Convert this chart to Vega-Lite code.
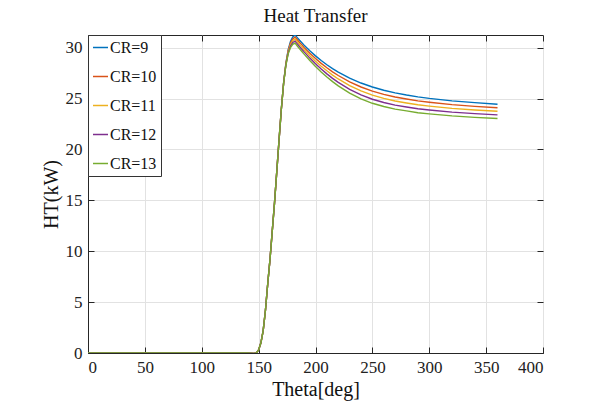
{
  "$schema": "https://vega.github.io/schema/vega-lite/v6.json",
  "width": 455,
  "height": 318,
  "autosize": {"type": "none"},
  "padding": {"left": 88, "top": 35, "right": 51, "bottom": 58},
  "background": "white",
  "title": {"text": "Heat Transfer", "font": "Liberation Serif", "fontSize": 19, "fontWeight": "normal", "color": "#111", "offset": 9},
  "config": {
    "font": "Liberation Serif",
    "style": {"guide-label": {"font": "Liberation Serif"}, "guide-title": {"font": "Liberation Serif"}},
    "view": {"stroke": "#262626", "strokeWidth": 1},
    "axis": {"labelFont": "Liberation Serif", "titleFont": "Liberation Serif", "labelColor": "#222", "titleColor": "#111", "titleFontWeight": "normal", "domainColor": "#262626", "tickColor": "#262626", "gridColor": "#e2e2e2", "gridWidth": 1}
  },
  "data": {"values": [
    {"t":0,"c":"CR=9","v":0},{"t":20,"c":"CR=9","v":0},{"t":40,"c":"CR=9","v":0},{"t":60,"c":"CR=9","v":0},{"t":80,"c":"CR=9","v":0},{"t":100,"c":"CR=9","v":0},{"t":120,"c":"CR=9","v":0},{"t":140,"c":"CR=9","v":0},{"t":146,"c":"CR=9","v":-0.05},{"t":148,"c":"CR=9","v":0},{"t":150,"c":"CR=9","v":0.3},{"t":152,"c":"CR=9","v":1.0},{"t":154,"c":"CR=9","v":2.2},{"t":156,"c":"CR=9","v":4.2},{"t":158,"c":"CR=9","v":6.8},{"t":160,"c":"CR=9","v":9.2},{"t":162,"c":"CR=9","v":12.0},{"t":164,"c":"CR=9","v":14.8},{"t":166,"c":"CR=9","v":17.9},{"t":168,"c":"CR=9","v":21.0},{"t":170,"c":"CR=9","v":24.0},{"t":172,"c":"CR=9","v":26.6},{"t":174,"c":"CR=9","v":28.5},{"t":176,"c":"CR=9","v":29.8},{"t":178,"c":"CR=9","v":30.6},{"t":180,"c":"CR=9","v":31.05},{"t":182,"c":"CR=9","v":31.25},{"t":184,"c":"CR=9","v":30.99},{"t":186,"c":"CR=9","v":30.73},{"t":188,"c":"CR=9","v":30.49},{"t":190,"c":"CR=9","v":30.25},{"t":195,"c":"CR=9","v":29.7},{"t":200,"c":"CR=9","v":29.2},{"t":205,"c":"CR=9","v":28.74},{"t":210,"c":"CR=9","v":28.33},{"t":215,"c":"CR=9","v":27.95},{"t":220,"c":"CR=9","v":27.61},{"t":230,"c":"CR=9","v":27.02},{"t":240,"c":"CR=9","v":26.53},{"t":250,"c":"CR=9","v":26.14},{"t":260,"c":"CR=9","v":25.82},{"t":270,"c":"CR=9","v":25.56},{"t":280,"c":"CR=9","v":25.35},{"t":290,"c":"CR=9","v":25.17},{"t":300,"c":"CR=9","v":25.02},{"t":320,"c":"CR=9","v":24.78},{"t":340,"c":"CR=9","v":24.6},{"t":360,"c":"CR=9","v":24.45},
    {"t":0,"c":"CR=10","v":0},{"t":20,"c":"CR=10","v":0},{"t":40,"c":"CR=10","v":0},{"t":60,"c":"CR=10","v":0},{"t":80,"c":"CR=10","v":0},{"t":100,"c":"CR=10","v":0},{"t":120,"c":"CR=10","v":0},{"t":140,"c":"CR=10","v":0},{"t":146,"c":"CR=10","v":-0.05},{"t":148,"c":"CR=10","v":0},{"t":150,"c":"CR=10","v":0.3},{"t":152,"c":"CR=10","v":1.0},{"t":154,"c":"CR=10","v":2.2},{"t":156,"c":"CR=10","v":4.2},{"t":158,"c":"CR=10","v":6.8},{"t":160,"c":"CR=10","v":9.2},{"t":162,"c":"CR=10","v":12.0},{"t":164,"c":"CR=10","v":14.8},{"t":166,"c":"CR=10","v":17.9},{"t":168,"c":"CR=10","v":21.0},{"t":170,"c":"CR=10","v":24.0},{"t":172,"c":"CR=10","v":26.58},{"t":174,"c":"CR=10","v":28.45},{"t":176,"c":"CR=10","v":29.7},{"t":178,"c":"CR=10","v":30.45},{"t":180,"c":"CR=10","v":30.87},{"t":182,"c":"CR=10","v":31.05},{"t":184,"c":"CR=10","v":30.79},{"t":186,"c":"CR=10","v":30.52},{"t":188,"c":"CR=10","v":30.28},{"t":190,"c":"CR=10","v":30.03},{"t":195,"c":"CR=10","v":29.46},{"t":200,"c":"CR=10","v":28.94},{"t":205,"c":"CR=10","v":28.46},{"t":210,"c":"CR=10","v":28.03},{"t":215,"c":"CR=10","v":27.63},{"t":220,"c":"CR=10","v":27.27},{"t":230,"c":"CR=10","v":26.65},{"t":240,"c":"CR=10","v":26.14},{"t":250,"c":"CR=10","v":25.74},{"t":260,"c":"CR=10","v":25.42},{"t":270,"c":"CR=10","v":25.16},{"t":280,"c":"CR=10","v":24.96},{"t":290,"c":"CR=10","v":24.78},{"t":300,"c":"CR=10","v":24.64},{"t":320,"c":"CR=10","v":24.41},{"t":340,"c":"CR=10","v":24.24},{"t":360,"c":"CR=10","v":24.1},
    {"t":0,"c":"CR=11","v":0},{"t":20,"c":"CR=11","v":0},{"t":40,"c":"CR=11","v":0},{"t":60,"c":"CR=11","v":0},{"t":80,"c":"CR=11","v":0},{"t":100,"c":"CR=11","v":0},{"t":120,"c":"CR=11","v":0},{"t":140,"c":"CR=11","v":0},{"t":146,"c":"CR=11","v":-0.05},{"t":148,"c":"CR=11","v":0},{"t":150,"c":"CR=11","v":0.3},{"t":152,"c":"CR=11","v":1.0},{"t":154,"c":"CR=11","v":2.2},{"t":156,"c":"CR=11","v":4.2},{"t":158,"c":"CR=11","v":6.8},{"t":160,"c":"CR=11","v":9.2},{"t":162,"c":"CR=11","v":12.0},{"t":164,"c":"CR=11","v":14.8},{"t":166,"c":"CR=11","v":17.9},{"t":168,"c":"CR=11","v":21.0},{"t":170,"c":"CR=11","v":24.0},{"t":172,"c":"CR=11","v":26.56},{"t":174,"c":"CR=11","v":28.4},{"t":176,"c":"CR=11","v":29.6},{"t":178,"c":"CR=11","v":30.3},{"t":180,"c":"CR=11","v":30.69},{"t":182,"c":"CR=11","v":30.85},{"t":184,"c":"CR=11","v":30.58},{"t":186,"c":"CR=11","v":30.31},{"t":188,"c":"CR=11","v":30.06},{"t":190,"c":"CR=11","v":29.81},{"t":195,"c":"CR=11","v":29.22},{"t":200,"c":"CR=11","v":28.68},{"t":205,"c":"CR=11","v":28.18},{"t":210,"c":"CR=11","v":27.73},{"t":215,"c":"CR=11","v":27.31},{"t":220,"c":"CR=11","v":26.93},{"t":230,"c":"CR=11","v":26.28},{"t":240,"c":"CR=11","v":25.75},{"t":250,"c":"CR=11","v":25.34},{"t":260,"c":"CR=11","v":25.02},{"t":270,"c":"CR=11","v":24.76},{"t":280,"c":"CR=11","v":24.57},{"t":290,"c":"CR=11","v":24.39},{"t":300,"c":"CR=11","v":24.26},{"t":320,"c":"CR=11","v":24.04},{"t":340,"c":"CR=11","v":23.88},{"t":360,"c":"CR=11","v":23.75},
    {"t":0,"c":"CR=12","v":0},{"t":20,"c":"CR=12","v":0},{"t":40,"c":"CR=12","v":0},{"t":60,"c":"CR=12","v":0},{"t":80,"c":"CR=12","v":0},{"t":100,"c":"CR=12","v":0},{"t":120,"c":"CR=12","v":0},{"t":140,"c":"CR=12","v":0},{"t":146,"c":"CR=12","v":-0.05},{"t":148,"c":"CR=12","v":0},{"t":150,"c":"CR=12","v":0.3},{"t":152,"c":"CR=12","v":1.0},{"t":154,"c":"CR=12","v":2.2},{"t":156,"c":"CR=12","v":4.2},{"t":158,"c":"CR=12","v":6.8},{"t":160,"c":"CR=12","v":9.2},{"t":162,"c":"CR=12","v":12.0},{"t":164,"c":"CR=12","v":14.8},{"t":166,"c":"CR=12","v":17.9},{"t":168,"c":"CR=12","v":21.0},{"t":170,"c":"CR=12","v":24.0},{"t":172,"c":"CR=12","v":26.54},{"t":174,"c":"CR=12","v":28.35},{"t":176,"c":"CR=12","v":29.5},{"t":178,"c":"CR=12","v":30.15},{"t":180,"c":"CR=12","v":30.51},{"t":182,"c":"CR=12","v":30.65},{"t":184,"c":"CR=12","v":30.38},{"t":186,"c":"CR=12","v":30.1},{"t":188,"c":"CR=12","v":29.85},{"t":190,"c":"CR=12","v":29.59},{"t":195,"c":"CR=12","v":28.98},{"t":200,"c":"CR=12","v":28.42},{"t":205,"c":"CR=12","v":27.9},{"t":210,"c":"CR=12","v":27.43},{"t":215,"c":"CR=12","v":26.99},{"t":220,"c":"CR=12","v":26.59},{"t":230,"c":"CR=12","v":25.91},{"t":240,"c":"CR=12","v":25.36},{"t":250,"c":"CR=12","v":24.94},{"t":260,"c":"CR=12","v":24.62},{"t":270,"c":"CR=12","v":24.36},{"t":280,"c":"CR=12","v":24.18},{"t":290,"c":"CR=12","v":24.0},{"t":300,"c":"CR=12","v":23.88},{"t":320,"c":"CR=12","v":23.67},{"t":340,"c":"CR=12","v":23.52},{"t":360,"c":"CR=12","v":23.4},
    {"t":0,"c":"CR=13","v":0},{"t":20,"c":"CR=13","v":0},{"t":40,"c":"CR=13","v":0},{"t":60,"c":"CR=13","v":0},{"t":80,"c":"CR=13","v":0},{"t":100,"c":"CR=13","v":0},{"t":120,"c":"CR=13","v":0},{"t":140,"c":"CR=13","v":0},{"t":146,"c":"CR=13","v":-0.05},{"t":148,"c":"CR=13","v":0},{"t":150,"c":"CR=13","v":0.3},{"t":152,"c":"CR=13","v":1.0},{"t":154,"c":"CR=13","v":2.2},{"t":156,"c":"CR=13","v":4.2},{"t":158,"c":"CR=13","v":6.8},{"t":160,"c":"CR=13","v":9.2},{"t":162,"c":"CR=13","v":12.0},{"t":164,"c":"CR=13","v":14.8},{"t":166,"c":"CR=13","v":17.9},{"t":168,"c":"CR=13","v":21.0},{"t":170,"c":"CR=13","v":24.0},{"t":172,"c":"CR=13","v":26.52},{"t":174,"c":"CR=13","v":28.3},{"t":176,"c":"CR=13","v":29.4},{"t":178,"c":"CR=13","v":30.0},{"t":180,"c":"CR=13","v":30.33},{"t":182,"c":"CR=13","v":30.45},{"t":184,"c":"CR=13","v":30.17},{"t":186,"c":"CR=13","v":29.89},{"t":188,"c":"CR=13","v":29.63},{"t":190,"c":"CR=13","v":29.37},{"t":195,"c":"CR=13","v":28.74},{"t":200,"c":"CR=13","v":28.16},{"t":205,"c":"CR=13","v":27.62},{"t":210,"c":"CR=13","v":27.13},{"t":215,"c":"CR=13","v":26.67},{"t":220,"c":"CR=13","v":26.25},{"t":230,"c":"CR=13","v":25.54},{"t":240,"c":"CR=13","v":24.97},{"t":250,"c":"CR=13","v":24.54},{"t":260,"c":"CR=13","v":24.22},{"t":270,"c":"CR=13","v":23.96},{"t":280,"c":"CR=13","v":23.79},{"t":290,"c":"CR=13","v":23.61},{"t":300,"c":"CR=13","v":23.5},{"t":320,"c":"CR=13","v":23.3},{"t":340,"c":"CR=13","v":23.16},{"t":360,"c":"CR=13","v":23.05}
  ]},
  "resolve": {"axis": {"x": "independent", "y": "independent"}},
  "layer": [
    {
      "mark": {"type": "line", "strokeWidth": 1.4, "clip": true},
      "encoding": {
        "x": {"field": "t", "type": "quantitative", "scale": {"domain": [0, 400], "nice": false},
              "axis": {"title": "Theta[deg]", "values": [0,50,100,150,200,250,300,350,400], "labelFont": "Liberation Serif", "titleFont": "Liberation Serif", "labelFontSize": 17, "titleFontSize": 20, "tickSize": -6, "labelPadding": 12, "titlePadding": 4, "grid": true}},
        "y": {"field": "v", "type": "quantitative", "scale": {"domain": [0, 31.25], "nice": false, "zero": false},
              "axis": {"title": "HT(kW)", "values": [0,5,10,15,20,25,30], "labelFont": "Liberation Serif", "titleFont": "Liberation Serif", "labelFontSize": 17, "titleFontSize": 20, "tickSize": -6, "labelPadding": 12, "titlePadding": 4, "grid": true}},
        "color": {"field": "c", "type": "nominal",
                  "scale": {"domain": ["CR=9","CR=10","CR=11","CR=12","CR=13"], "range": ["#0072BD","#D95319","#EDB120","#7E2F8E","#77AC30"]},
                  "legend": {"title": null, "orient": "top-left", "offset": 0, "padding": 4, "fillColor": "white", "strokeColor": "#333", "symbolType": "stroke", "symbolSize": 225, "symbolStrokeWidth": 1.5, "labelFont": "Liberation Serif", "labelFontSize": 16, "labelColor": "#111", "labelOffset": 1, "rowPadding": 12}},
        "order": {"field": "c", "type": "nominal"}
      }
    },
    {
      "mark": {"type": "line", "opacity": 0},
      "encoding": {
        "x": {"field": "t", "type": "quantitative", "axis": {"orient": "top", "title": null, "labels": false, "values": [0,50,100,150,200,250,300,350,400], "tickSize": -6, "grid": false, "domain": false}},
        "y": {"field": "v", "type": "quantitative", "axis": {"orient": "right", "title": null, "labels": false, "values": [0,5,10,15,20,25,30], "tickSize": -6, "grid": false, "domain": false}},
        "detail": {"field": "c"}
      }
    }
  ]
}
